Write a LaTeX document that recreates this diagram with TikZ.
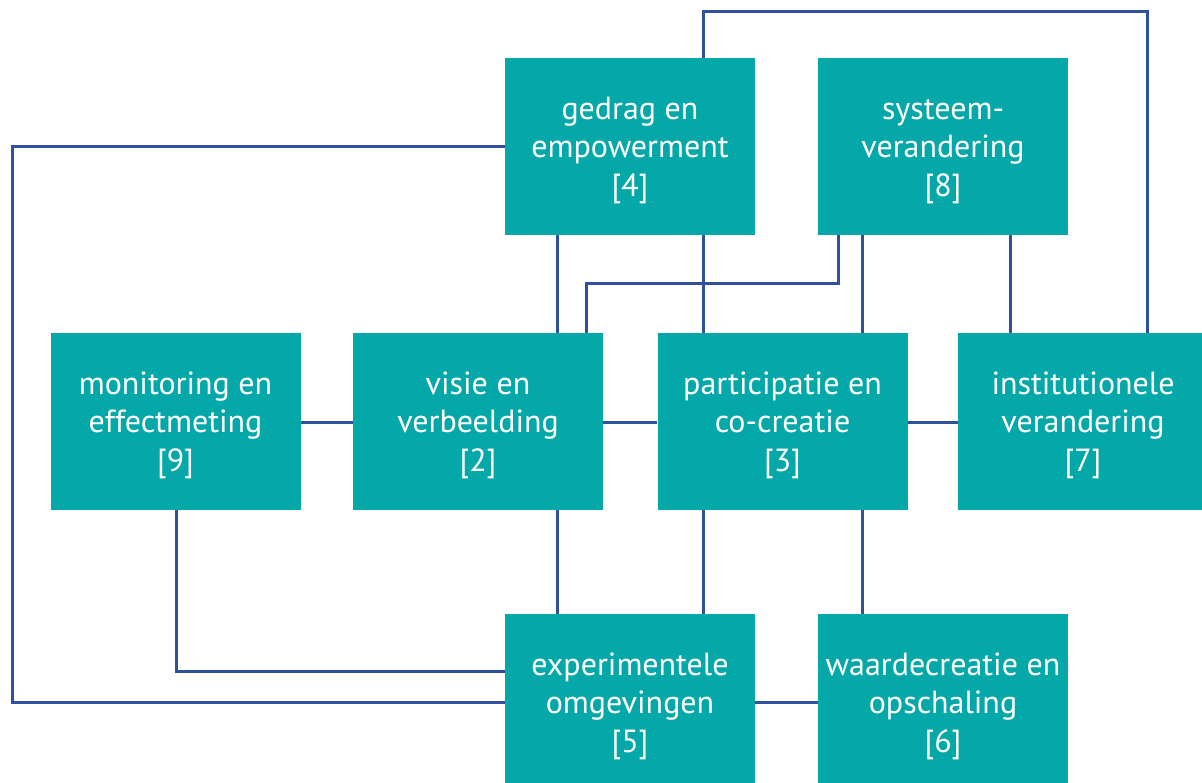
\documentclass[tikz,border=0pt]{standalone}
\usepackage{fontspec}
\setmainfont{PT Sans}
\usetikzlibrary{backgrounds}
\definecolor{boxteal}{HTML}{05A8A8}
\definecolor{linkblue}{HTML}{2F519D}
\newcommand{\boxlines}[1]{\raisebox{-3.5pt}[\height][\depth]{\begin{tabular}{@{}c@{}}#1\end{tabular}}}
\begin{document}
\begin{tikzpicture}[x=1pt,y=-1pt,
  box/.style={fill=boxteal, draw=none, minimum width=250pt, minimum height=177pt,
    inner sep=0pt, text=white,
    font=\fontsize{32}{38.5}\selectfont},
  link/.style={draw=linkblue, line width=3pt}]
\clip (0,0) rectangle (1202,783);
% boxes
\path
  (630,146.5) node[box] (n4) {\boxlines{gedrag en\\empowerment\\{[4]}}}
  (943,146.5) node[box] (n8) {\boxlines{systeem-\\verandering\\{[8]}}}
  (175.5,421.5) node[box] (n9) {\boxlines{monitoring en\\effectmeting\\{[9]}}}
  (478,421.5) node[box] (n2) {\boxlines{visie en\\verbeelding\\{[2]}}}
  (782.5,421.5) node[box] (n3) {\boxlines{participatie en\\co-creatie\\{[3]}}}
  (1083,421.5) node[box] (n7) {\boxlines{institutionele\\verandering\\{[7]}}}
  (630,702.5) node[box] (n5) {\boxlines{experimentele\\omgevingen\\{[5]}}}
  (943,702.5) node[box] (n6) {\boxlines{waardecreatie en\\opschaling\\{[6]}}};
\begin{scope}[on background layer]
\fill[white] (0,0) rectangle (1202,783);
\coordinate (left) at (12,0);
\draw[link] (n4.north -| 703,0) -- (703,12) -- (1147,12) -- (n7.north -| 1147,0);
\draw[link] (n4.west |- 0,147) -| (left |- 0,702) -- (n5.west |- 0,702);
\draw[link] (n4.south -| 557,0) -- (n2.north -| 557,0);
\draw[link] (n4.south -| 703,0) -- (n3.north -| 703,0);
\draw[link] (n8.south -| 838,0) -- (838,284) -- (586,284) -- (n2.north -| 586,0);
\draw[link] (n8.south -| 862,0) -- (n3.north -| 862,0);
\draw[link] (n8.south -| 1010,0) -- (n7.north -| 1010,0);
\draw[link] (n9.east |- 0,422) -- (n2.west |- 0,422);
\draw[link] (n2.east |- 0,422) -- (n3.west |- 0,422);
\draw[link] (n3.east |- 0,422) -- (n7.west |- 0,422);
\draw[link] (n9.south -| 176,0) -- (176,671) -- (n5.west |- 0,671);
\draw[link] (n2.south -| 557,0) -- (n5.north -| 557,0);
\draw[link] (n3.south -| 703,0) -- (n5.north -| 703,0);
\draw[link] (n3.south -| 862,0) -- (n6.north -| 862,0);
\draw[link] (n5.east |- 0,702) -- (n6.west |- 0,702);
\end{scope}
\end{tikzpicture}
\end{document}
